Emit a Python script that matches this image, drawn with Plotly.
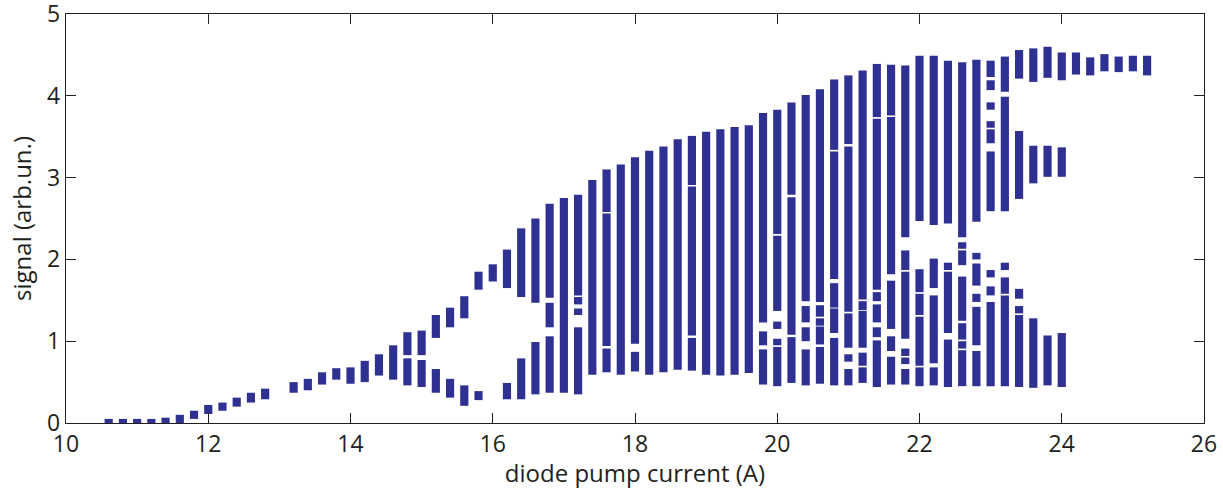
import plotly.graph_objects as go

# Pump current of each recorded column (A)
pump_current = [
    10.6, 10.8, 11.0, 11.2, 11.4, 11.6, 11.8, 12.0, 12.2, 12.4, 12.6, 12.8,
    13.2, 13.4, 13.6, 13.8, 14.0, 14.2, 14.4, 14.6, 14.8, 15.0, 15.2, 15.4,
    15.6, 15.8, 16.0, 16.2, 16.4, 16.6, 16.8, 17.0, 17.2, 17.4, 17.6, 17.8,
    18.0, 18.2, 18.4, 18.6, 18.8, 19.0, 19.2, 19.4, 19.6, 19.8, 20.0, 20.2,
    20.4, 20.6, 20.8, 21.0, 21.2, 21.4, 21.6, 21.8, 22.0, 22.2, 22.4, 22.6,
    22.8, 23.0, 23.2, 23.4, 23.6, 23.8, 24.0, 24.2, 24.4, 24.6, 24.8, 25.0,
    25.2,
]

# Lower edge of every signal band in each column (arb. units)
band_low = [
    [-0.05], [-0.05], [-0.05], [-0.03], [-0.02], [0.0], [0.05], [0.11],
    [0.15], [0.20], [0.25], [0.29],
    [0.37], [0.40], [0.47], [0.53], [0.48], [0.50], [0.58], [0.53],
    [0.46, 0.83], [0.44, 0.83], [0.37, 1.04], [0.31, 1.17],
    [0.21, 1.28], [0.28, 1.63], [1.73], [0.29, 1.65], [0.29, 1.54],
    [0.35, 1.47], [0.37, 1.17, 1.53], [0.37], [0.35, 1.32, 1.45, 1.56],
    [0.59], [0.62, 0.94, 2.58], [0.59],
    [0.63, 0.97], [0.59], [0.62], [0.65], [0.64, 1.07, 2.91], [0.59],
    [0.58], [0.59], [0.61], [0.47, 0.95, 1.23],
    [0.45, 0.95, 1.15, 1.37, 2.31], [0.49, 1.08, 2.79],
    [0.46, 1.00, 1.23, 1.49], [0.48, 0.96, 1.19, 1.30, 1.48],
    [0.46, 1.10, 1.41, 1.76, 3.34], [0.46, 0.75, 0.92, 1.36, 3.41],
    [0.49, 0.70, 0.92, 1.38, 1.51], [0.44, 1.05, 1.23, 1.49, 1.63, 3.74],
    [0.47, 0.88, 1.15, 1.82, 3.76], [0.47, 0.72, 0.82, 1.03, 1.87, 2.27],
    [0.45, 0.70, 1.32, 1.60, 2.47], [0.46, 0.73, 1.65, 2.42],
    [0.44, 1.10, 1.87, 2.44], [0.45, 0.91, 1.02, 1.25, 1.93, 2.13, 2.27],
    [0.45, 0.95, 1.48, 1.68, 2.00, 2.46],
    [0.45, 1.56, 1.78, 2.59, 3.42, 3.61, 3.83, 4.07, 4.23],
    [0.45, 1.58, 1.87, 2.59, 4.05], [0.44, 1.34, 1.52, 2.74, 4.21],
    [0.43, 2.93, 4.17], [0.46, 3.01, 4.22], [0.44, 3.01, 4.19],
    [4.26], [4.25], [4.30], [4.29], [4.30], [4.25],
]

# Upper edge of every signal band in each column (arb. units)
band_high = [
    [0.05], [0.05], [0.05], [0.05], [0.065], [0.10], [0.15], [0.22],
    [0.25], [0.31], [0.37], [0.42],
    [0.50], [0.54], [0.62], [0.67], [0.68], [0.76], [0.84], [0.95],
    [0.79, 1.11], [0.77, 1.13], [0.66, 1.32], [0.54, 1.41],
    [0.46, 1.55], [0.39, 1.85], [1.94], [0.49, 2.12], [0.79, 2.38],
    [0.99, 2.50], [1.06, 1.47, 2.68], [2.75], [1.17, 1.40, 1.54, 2.79],
    [2.97], [0.91, 2.56, 3.10], [3.16],
    [0.87, 3.25], [3.33], [3.38], [3.47], [1.04, 2.89, 3.51], [3.56],
    [3.59], [3.62], [3.64], [0.90, 1.12, 3.79],
    [0.93, 1.03, 1.24, 2.29, 3.83], [1.05, 2.76, 3.92],
    [0.90, 1.17, 1.43, 4.01], [0.93, 1.18, 1.28, 1.44, 4.08],
    [1.04, 1.40, 1.71, 3.32, 4.20], [0.66, 0.84, 1.34, 3.38, 4.25],
    [0.68, 0.86, 1.37, 1.49, 4.31], [1.01, 1.17, 1.45, 1.60, 3.72, 4.39],
    [0.81, 1.06, 1.74, 3.74, 4.38], [0.66, 0.80, 0.91, 1.85, 2.11, 4.37],
    [0.68, 1.30, 1.58, 1.88, 4.49], [0.68, 1.56, 2.01, 4.49],
    [1.02, 1.85, 1.96, 4.43], [0.89, 1.00, 1.22, 1.79, 2.11, 2.21, 4.41],
    [0.88, 1.42, 1.58, 1.95, 2.08, 4.44],
    [1.48, 1.67, 1.87, 3.32, 3.59, 3.69, 3.92, 4.19, 4.43],
    [1.56, 1.78, 1.96, 3.99, 4.48], [1.32, 1.43, 1.64, 3.57, 4.56],
    [1.28, 3.39, 4.58], [1.07, 3.39, 4.60], [1.10, 3.37, 4.53],
    [4.53], [4.47], [4.51], [4.48], [4.49], [4.49],
]

x_ticks = [10, 12, 14, 16, 18, 20, 22, 24, 26]
y_ticks = [0, 1, 2, 3, 4, 5]

# Flatten the bands into one floating-bar trace
xs, bases, spans = [], [], []
for cur, lows, highs in zip(pump_current, band_low, band_high):
    for lo, hi in zip(lows, highs):
        xs.append(cur)
        bases.append(lo)
        spans.append(hi - lo)

ink = "#231f20"
tick_font = dict(family="Open Sans, sans-serif", size=23, color=ink)
title_font = dict(family="Open Sans, sans-serif", size=24, color=ink)

fig = go.Figure(
    go.Bar(
        x=xs,
        y=spans,
        base=bases,
        width=0.115,
        marker=dict(color="#2e3192", line=dict(width=0)),
        cliponaxis=False,
        hoverinfo="x+y",
    )
)

axis_common = dict(
    showline=True,
    linecolor=ink,
    linewidth=1.3,
    mirror="ticks",
    ticks="inside",
    ticklen=10,
    tickwidth=1,
    tickcolor=ink,
    showgrid=False,
    zeroline=False,
    tickfont=tick_font,
    layer="above traces",
    automargin=False,
)

fig.update_layout(
    width=1223,
    height=489,
    margin=dict(l=66, r=19, t=14, b=66),
    paper_bgcolor="white",
    plot_bgcolor="white",
    barmode="overlay",
    showlegend=False,
    font=tick_font,
    xaxis=dict(
        range=[10, 26],
        tickvals=x_ticks,
        title=dict(text="diode pump current (A)", font=title_font, standoff=3),
        **axis_common,
    ),
    yaxis=dict(
        range=[0, 5.0005],
        tickvals=y_ticks,
        ticklabeloverflow="allow",
        title=dict(text="signal (arb.un.)", font=title_font, standoff=8),
        **axis_common,
    ),
)

fig.write_html("out.html")
